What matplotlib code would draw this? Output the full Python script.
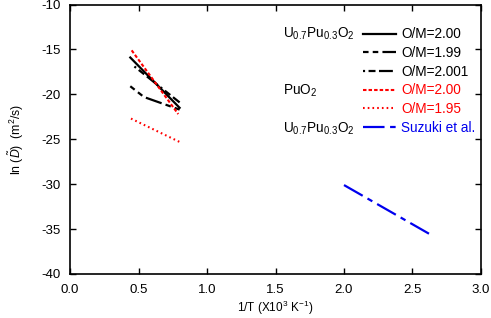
import matplotlib
matplotlib.use("Agg")
import matplotlib.pyplot as plt

plt.rcParams["font.family"] = ["Liberation Sans", "DejaVu Sans"]
plt.rcParams["mathtext.fontset"] = "custom"
plt.rcParams["mathtext.rm"] = "Liberation Sans"
plt.rcParams["mathtext.it"] = "Liberation Sans:italic"
plt.rcParams["lines.scale_dashes"] = False

# U0.7Pu0.3O2, this work
mox_200_x = [0.44, 0.80]
mox_200_y = [-15.9, -21.5]
mox_199_x = [0.44, 0.54, 0.80]
mox_199_y = [-19.1, -20.3, -21.7]
mox_2001_x = [0.47, 0.80]
mox_2001_y = [-16.9, -20.9]

# PuO2
puo2_200_x = [0.45, 0.79]
puo2_200_y = [-15.1, -22.2]
puo2_195_x = [0.445, 0.80]
puo2_195_y = [-22.7, -25.3]

# U0.7Pu0.3O2, Suzuki et al.
suzuki_x = [2.0, 2.63]
suzuki_y = [-30.1, -35.6]

x_ticks = [0.0, 0.5, 1.0, 1.5, 2.0, 2.5, 3.0]
y_ticks = [-40, -35, -30, -25, -20, -15, -10]

fig = plt.figure(figsize=(4.91, 3.18), dpi=100)
ax = fig.add_axes([0.1426, 0.1384, 0.8370, 0.8474])

ax.plot(mox_200_x, mox_200_y, color="black", lw=1.6, label="O/M=2.00")
ax.plot(mox_199_x, mox_199_y, color="black", lw=1.6,
        dashes=[4, 3, 4, 3, 12, 3], label="O/M=1.99")
ax.plot(mox_2001_x, mox_2001_y, color="black", lw=1.6,
        dashes=[1.5, 2.5, 5, 2.5, 10, 2.5], label="O/M=2.001")
ax.plot(puo2_200_x, puo2_200_y, color="red", lw=1.5,
        dashes=[2.5, 1.5], label="O/M=2.00")
ax.plot(puo2_195_x, puo2_195_y, color="red", lw=1.5,
        dashes=[1.2, 2.2], label="O/M=1.95")
ax.plot(suzuki_x, suzuki_y, color="#0000ee", lw=1.6,
        dashes=[15.5, 4, 4, 4], label="Suzuki et al.")

ax.set_xlim(0, 3.0)
ax.set_ylim(-40, -10)
ax.set_xticks(x_ticks)
ax.set_yticks(y_ticks)
ax.set_xticklabels([f"{v:.1f}" for v in x_ticks])
ax.set_yticklabels([str(v) for v in y_ticks])
ax.tick_params(direction="in", length=4.5, width=1, top=True, right=True,
               labelsize=9.5, pad=7)
for spine in ax.spines.values():
    spine.set_linewidth(1.2)

ax.set_xlabel(r"1/T (X10$^3$ K$^{-1}$)", fontsize=8.5, labelpad=2.5)
ax.set_ylabel(r"ln ($\tilde{D}$)  (m$^2$/s)", fontsize=8.8, labelpad=11)

ax.legend(loc="upper right", bbox_to_anchor=(1.0, 0.935), frameon=False,
          fontsize=9.8, handlelength=2.4, handletextpad=0.4,
          labelspacing=0.34, labelcolor="linecolor", borderaxespad=0)

group_fs = 9.8
ax.text(0.518, 0.893, r"U$_{0.7}$Pu$_{0.3}$O$_2$", transform=ax.transAxes,
        fontsize=group_fs, va="center")
ax.text(0.518, 0.678, r"PuO$_2$", transform=ax.transAxes,
        fontsize=group_fs, va="center")
ax.text(0.518, 0.538, r"U$_{0.7}$Pu$_{0.3}$O$_2$", transform=ax.transAxes,
        fontsize=group_fs, va="center")

fig.savefig("out.png", dpi=100)
